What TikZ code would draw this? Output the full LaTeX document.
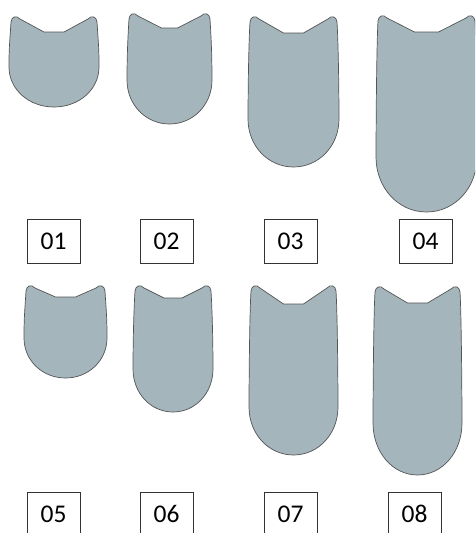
\documentclass[tikz,border=0pt]{standalone}
\usepackage{fontspec}
\setmainfont{Carlito}
\definecolor{headfill}{RGB}{164,181,187}
\definecolor{headline}{RGB}{85,85,85}
\tikzset{
  head/.style={fill=headfill,draw=headline,line width=0.7pt,line join=round},
  numbox/.style={draw=black!80,line width=0.8pt,minimum width=53pt,minimum height=44pt,
    inner sep=0pt,font=\fontsize{25.5}{30}\selectfont}
}
% #1 left, #2 right, #3 ear top, #4 notch, #5 bottom, #6 notch half width, #7 bottom round
\newcommand{\headshape}[7]{%
  \pgfmathsetmacro{\hC}{(#1+#2)/2}
  \pgfmathsetmacro{\hH}{(#2-#1)/2}
  \pgfmathsetmacro{\hS}{#5-#7}
  \draw[head] (#1+2,#3+6)
    .. controls (#1+2.5,#3+1) and (#1+7,#3-1.5) .. (#1+11,#3+3)
    -- (\hC-#6,#4) -- (\hC+#6,#4) -- (#2-11,#3+3)
    .. controls (#2-7,#3-1.5) and (#2-2.5,#3+1) .. (#2-2,#3+6)
    .. controls (#2-0.5,#3+30) and (#2,\hS-20) .. (#2,\hS)
    .. controls (#2,\hS+0.56*#7) and (\hC+0.56*\hH,#5) .. (\hC,#5)
    .. controls (\hC-0.56*\hH,#5) and (#1,\hS+0.56*#7) .. (#1,\hS)
    .. controls (#1,\hS-20) and (#1+0.5,#3+30) .. cycle;
}
\begin{document}
\begin{tikzpicture}[x=1pt,y=-1pt]
  \useasboundingbox (0,0) rectangle (475,533);
  \clip (0,0) rectangle (475,533);

  % top row
  \headshape{9}{99}{16}{32}{107}{10}{40}
  \headshape{127}{212}{13}{28}{124}{8}{44}
  \headshape{248}{339}{16}{33}{167}{10}{48}
  \headshape{376}{477}{15}{32}{212}{12}{55}

  % bottom row
  \headshape{24}{107}{285}{297}{378}{10}{40}
  \headshape{133}{213}{285}{298}{412}{9}{43}
  \headshape{249}{338}{285}{304}{455}{10}{48}
  \headshape{373}{462}{286}{303}{475}{10}{52}

  \begin{scope}[every node/.style={numbox}]
    \node (n01) at (53.5,241) {01};
    \node (n02) at (166.5,241) {02};
    \node (n03) at (290.5,241) {03};
    \node (n04) at (425.5,241) {04};
    \node (n05) at (53.5,514) {05};
    \node (n06) at (166.5,514) {06};
    \node (n07) at (290.5,514) {07};
    \node (n08) at (414.5,514) {08};
  \end{scope}

\end{tikzpicture}
\end{document}
